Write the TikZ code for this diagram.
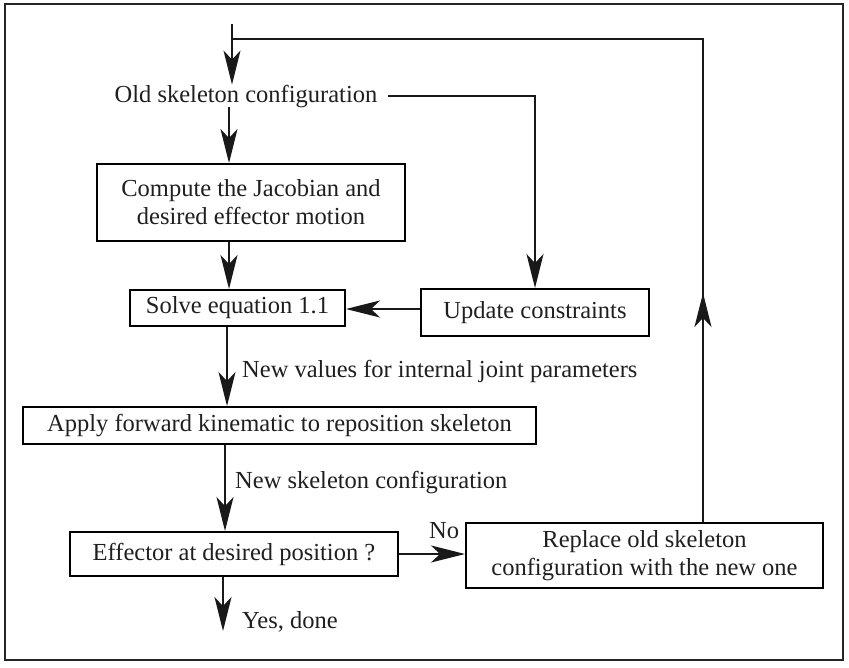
\documentclass[tikz,border=0pt]{standalone}
\usepackage{fontspec}
\setmainfont{Liberation Serif}
\usetikzlibrary{arrows.meta}
\begin{document}
\begin{tikzpicture}[x=1pt,y=-1pt,
  every node/.style={font=\fontsize{24.5}{28}\selectfont, text=black!88},
  box/.style={draw, line width=2pt, inner sep=0pt, align=center},
  lbl/.style={inner sep=0pt, anchor=base west},
  conn/.style={line width=2pt, black!90},
  arr/.style={conn, -{Stealth[length=34pt,width=17pt,inset=9pt]}}]
\useasboundingbox (0,0) rectangle (849,667);
\draw[line width=2.5pt, black!85] (5,4) rectangle (843,660);

\node[inner sep=0pt, anchor=base] (old) at (246,102) {Old skeleton configuration};
\node[box, minimum width=308pt, minimum height=77pt] (compute) at (251,202.5)
  {Compute the Jacobian and\\desired effector motion};
\node[box, minimum width=215pt, minimum height=36pt] (solve) at (237.5,308) {Solve equation 1.1};
\node[box, minimum width=228pt, minimum height=47pt] (update) at (535,312.5) {Update constraints};
\node[box, minimum width=513pt, minimum height=37pt] (apply) at (279.5,425.5)
  {Apply forward kinematic to reposition skeleton};
\node[box, minimum width=328pt, minimum height=44pt] (effector) at (234,554)
  {Effector at desired position ?};
\node[box, minimum width=357pt, minimum height=65pt] (replace) at (644.5,555.5)
  {Replace old skeleton\\configuration with the new one};

\node[lbl] (l1) at (242,377) {New values for internal joint parameters};
\node[lbl] (l2) at (235,488) {New skeleton configuration};
\node[lbl] (l3) at (429,538) {No};
\node[lbl] (l4) at (242,628) {Yes, done};

\coordinate (top) at (232,24);
\coordinate (corner) at (232,39);
\coordinate (rtop) at (703,39);
\coordinate (rmid) at (703,293);
\coordinate (done) at (223,631);

% feedback loop
\draw[conn] (replace.north -| rmid) -- (rtop) -- (corner);
\draw[arr] (rmid |- replace.north) -- (rmid);
\draw[arr] (top) -- (old.north -| top);

\draw[arr] (old.south -| 229,0) -- (compute.north -| 229,0);
\draw[arr] ([xshift=10pt]old.east) -- (old.east -| update.north) -- (update.north);
\draw[arr] (compute.south -| 229,0) -- (solve.north -| 229,0);
\draw[arr] (update.west |- 0,309) -- (solve.east |- 0,309);
\draw[arr] (solve.south -| 227,0) -- (apply.north -| 227,0);
\draw[arr] (apply.south -| 225,0) -- (effector.north -| 225,0);
\draw[arr] (effector.east) -- (replace.west |- effector.east);
\draw[arr] (effector.south -| done) -- (done);
\end{tikzpicture}
\end{document}
